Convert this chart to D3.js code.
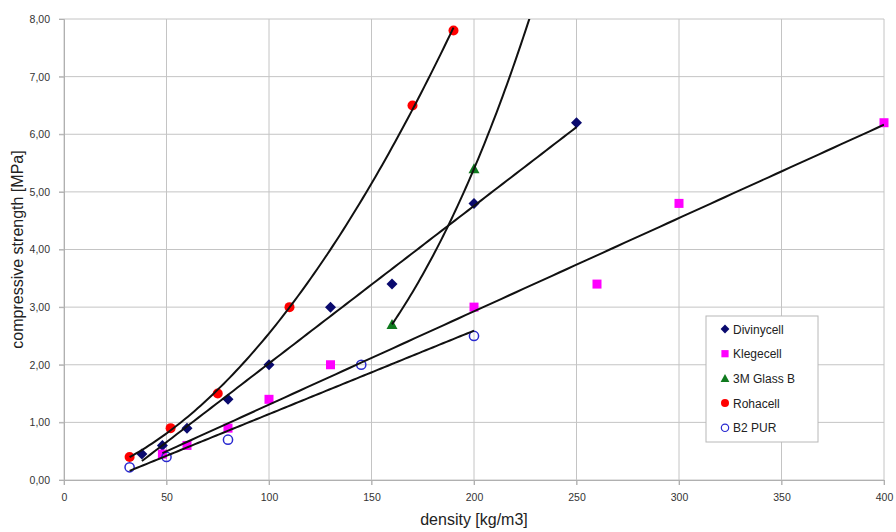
<!DOCTYPE html>
<html>
<head>
<meta charset="utf-8">
<script src="https://cdn.jsdelivr.net/npm/d3@7"></script>
<style>
  body { margin: 0; background: #fff; }
  svg { font-family: "Liberation Sans", Arial, sans-serif; }
</style>
</head>
<body>
<div id="chart"></div>
<script>
// series data [density, strength]
const divinycell = [[38, 0.45], [48, 0.6], [60, 0.9], [80, 1.4], [100, 2.0], [130, 3.0], [160, 3.4], [200, 4.8], [250, 6.2]];
const klegecell = [[48, 0.45], [60, 0.6], [80, 0.9], [100, 1.4], [130, 2.0], [200, 3.0], [260, 3.4], [300, 4.8], [400, 6.2]];
const glass3m = [[160, 2.7], [200, 5.4]];
const rohacell = [[32, 0.4], [52, 0.9], [75, 1.5], [110, 3.0], [170, 6.5], [190, 7.8]];
const b2pur = [[32, 0.22], [50, 0.4], [80, 0.7], [145, 2.0], [200, 2.5]];

const seriesNames = ['Divinycell', 'Klegecell', '3M Glass B', 'Rohacell', 'B2 PUR'];
const xTicks = [0, 50, 100, 150, 200, 250, 300, 350, 400];
const yTicks = [0, 1, 2, 3, 4, 5, 6, 7, 8];

const width = 896, height = 532;
const margin = { left: 64, right: 12, top: 19, bottom: 52 };

const x = d3.scaleLinear().domain([0, 400]).range([margin.left, width - margin.right]);
const y = d3.scaleLinear().domain([0, 8]).range([height - margin.bottom, margin.top]);

const svg = d3.select('#chart').append('svg')
    .attr('width', width)
    .attr('height', height);

svg.append('clipPath').attr('id', 'plotClip')
    .append('rect')
    .attr('x', x(0)).attr('y', y(8))
    .attr('width', x(400) - x(0)).attr('height', y(0) - y(8));

// grid
svg.append('g').selectAll('line').data(xTicks).join('line')
    .attr('x1', d => x(d)).attr('x2', d => x(d))
    .attr('y1', y(0) + 5).attr('y2', y(8))
    .attr('stroke', '#c4c4c4').attr('stroke-width', 1);
svg.append('g').selectAll('line').data(yTicks).join('line')
    .attr('x1', x(0) - 5).attr('x2', x(400))
    .attr('y1', d => y(d)).attr('y2', d => y(d))
    .attr('stroke', '#c4c4c4').attr('stroke-width', 1);

const commaFmt = d => d3.format('.2f')(d).replace('.', ',');

const xAxis = svg.append('g')
    .attr('transform', `translate(0,${y(0)})`)
    .call(d3.axisBottom(x).tickValues(xTicks).tickSize(5).tickPadding(9));
const yAxis = svg.append('g')
    .attr('transform', `translate(${x(0)},0)`)
    .call(d3.axisLeft(y).tickValues(yTicks).tickFormat(commaFmt).tickSize(5).tickPadding(9));

[xAxis, yAxis].forEach(a => {
    a.select('.domain').attr('stroke', '#b0b0b0');
    a.selectAll('.tick line').attr('stroke', '#b0b0b0');
    a.selectAll('.tick text').attr('fill', '#333').style('font-size', '10.5px')
        .style('font-family', '"Liberation Sans", Arial, sans-serif');
});

// axis titles
svg.append('text')
    .attr('x', 474).attr('y', 525)
    .attr('text-anchor', 'middle')
    .style('font-size', '16px').attr('fill', '#222')
    .text('density [kg/m3]');
svg.append('text')
    .attr('transform', `translate(23,${(y(0) + y(8)) / 2}) rotate(-90)`)
    .attr('text-anchor', 'middle')
    .style('font-size', '16px').attr('fill', '#222')
    .text('compressive strength [MPa]');

// markers
const markers = [
    { data: divinycell, shape: 'diamond', color: '#0a0a6e' },
    { data: klegecell, shape: 'square', color: '#ff00ff' },
    { data: glass3m, shape: 'triangle', color: '#0f7a1e' },
    { data: rohacell, shape: 'circle', color: '#ff0000' },
    { data: b2pur, shape: 'open', color: '#2a2ad0' }
];

function drawMarker(g, shape, color) {
    if (shape === 'diamond') {
        g.append('path').attr('d', 'M0,-5.5L5.5,0L0,5.5L-5.5,0Z').attr('fill', color);
    } else if (shape === 'square') {
        g.append('rect').attr('x', -4.5).attr('y', -4.5).attr('width', 9).attr('height', 9).attr('fill', color);
    } else if (shape === 'triangle') {
        g.append('path').attr('d', 'M0,-5.5L5.5,4.5L-5.5,4.5Z').attr('fill', color);
    } else if (shape === 'circle') {
        g.append('circle').attr('r', 5).attr('fill', color);
    } else {
        g.append('circle').attr('r', 4.6).attr('fill', 'none').attr('stroke', color).attr('stroke-width', 1.5);
    }
}

const markerLayer = svg.append('g');
markers.forEach(m => {
    markerLayer.append('g').selectAll('g').data(m.data).join('g')
        .attr('transform', d => `translate(${x(d[0])},${y(d[1])})`)
        .each(function () { drawMarker(d3.select(this), m.shape, m.color); });
});

// trend lines (least squares, like spreadsheet trendlines)
function linearFit(pts) {
    const mx = d3.mean(pts, p => p[0]), my = d3.mean(pts, p => p[1]);
    const sxy = d3.sum(pts, p => (p[0] - mx) * (p[1] - my));
    const sxx = d3.sum(pts, p => (p[0] - mx) ** 2);
    const k = sxy / sxx;
    return v => my + k * (v - mx);
}
function powerFit(pts) {
    const lg = pts.map(p => [Math.log(p[0]), Math.log(p[1])]);
    const f = linearFit(lg);
    return v => Math.exp(f(Math.log(v)));
}
function quadFit(pts) {
    // normal equations for y = a + b x + c x^2
    const s = k => d3.sum(pts, p => p[0] ** k);
    const t = k => d3.sum(pts, p => p[1] * p[0] ** k);
    const A = [[s(0), s(1), s(2)], [s(1), s(2), s(3)], [s(2), s(3), s(4)]];
    const B = [t(0), t(1), t(2)];
    const det = m => m[0][0] * (m[1][1] * m[2][2] - m[1][2] * m[2][1])
        - m[0][1] * (m[1][0] * m[2][2] - m[1][2] * m[2][0])
        + m[0][2] * (m[1][0] * m[2][1] - m[1][1] * m[2][0]);
    const D = det(A);
    const coef = [0, 1, 2].map(c => det(A.map((row, r) => row.map((v, j) => j === c ? B[r] : v))) / D);
    return v => coef[0] + coef[1] * v + coef[2] * v * v;
}

const trends = [
    { fit: linearFit(divinycell), from: 38, to: 250 },
    { fit: linearFit(klegecell), from: 48, to: 400 },
    { fit: powerFit(glass3m), from: 160, to: 260 },
    { fit: quadFit(rohacell), from: 32, to: 190 },
    { fit: linearFit(b2pur), from: 32, to: 200 }
];

const line = d3.line().x(d => x(d[0])).y(d => y(d[1]));
const trendLayer = svg.append('g').attr('clip-path', 'url(#plotClip)');
trends.forEach(t => {
    const pts = d3.range(0, 101).map(i => {
        const v = t.from + (t.to - t.from) * i / 100;
        return [v, t.fit(v)];
    });
    trendLayer.append('path')
        .attr('d', line(pts))
        .attr('fill', 'none')
        .attr('stroke', '#111')
        .attr('stroke-width', 2);
});

// legend
const legend = svg.append('g').attr('transform', 'translate(706,316)');
legend.append('rect')
    .attr('width', 112).attr('height', 126)
    .attr('fill', '#fff').attr('stroke', '#b8b8b8');
markers.forEach((m, i) => {
    const row = legend.append('g').attr('transform', `translate(19,${13 + i * 24.7})`);
    const mk = row.append('g').attr('transform', 'scale(0.8)');
    drawMarker(mk, m.shape, m.color);
    row.append('text')
        .attr('x', 8).attr('y', 4.5)
        .style('font-size', '12px').attr('fill', '#222')
        .text(seriesNames[i]);
});
</script>
</body>
</html>
